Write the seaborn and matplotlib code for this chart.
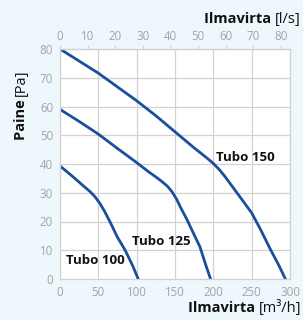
"""Pressure vs airflow curves for Tubo ducts."""

import pandas as pd
import matplotlib
matplotlib.use("Agg")
import matplotlib.pyplot as plt
import seaborn as sns

# Data (airflow m3/h, pressure Pa)
tubo100_flow = [0, 15, 30, 40, 46, 52, 58, 65, 75, 85, 95, 102]
tubo100_pa = [39.3, 36, 32.5, 30.2, 28.5, 26.3, 23.6, 20, 14.5, 10, 4.5, 0]

tubo125_flow = [0, 25, 50, 75, 100, 115, 124, 132, 140, 146, 152, 158,
                165, 173, 182.5, 190, 196.4]
tubo125_pa = [59, 54.8, 50.4, 45.4, 40.5, 37.4, 35.7, 34.1, 32.3, 30.4,
              27.8, 24.5, 21, 16.5, 11.2, 5, 0]

tubo150_flow = [0, 25, 50, 75, 100, 125, 150, 175, 185, 192, 200, 208, 215,
                228, 250, 262, 275, 285, 294]
tubo150_pa = [80, 75.8, 71.6, 66.8, 62, 56.8, 51.2, 45.6, 43.5, 42, 40.2,
              38, 35.7, 31, 23, 17, 10, 5, 0]

series_names = ["Tubo 100", "Tubo 125", "Tubo 150"]
label_pos = [(8, 6.6), (94, 13), (203, 42.4)]

x_ticks = [0, 50, 100, 150, 200, 250, 300]
y_ticks = [0, 10, 20, 30, 40, 50, 60, 70, 80]
top_ticks = [0, 10, 20, 30, 40, 50, 60, 70, 80]

BG = "#eef7fc"
LINE = "#1a4f9c"
GRID = "#d2d2d2"
TICK = "#a3a3a3"

frames = []
for name, fl, pa in zip(series_names,
                        [tubo100_flow, tubo125_flow, tubo150_flow],
                        [tubo100_pa, tubo125_pa, tubo150_pa]):
    frames.append(pd.DataFrame({"flow": fl, "pa": pa, "tubo": name}))
df = pd.concat(frames, ignore_index=True)

sns.set_style("white")
plt.rcParams["font.family"] = ["Open Sans", "DejaVu Sans"]

fig = plt.figure(figsize=(3.03, 3.20), dpi=100, facecolor=BG)
ax = fig.add_axes([60 / 303, 1 - 279 / 320, 230 / 303, 230 / 320])
ax.set_facecolor("white")

sns.lineplot(data=df, x="flow", y="pa", units="tubo", estimator=None,
             color=LINE, linewidth=2.0, sort=False, ax=ax, legend=False)

for name, (lx, ly) in zip(series_names, label_pos):
    ax.text(lx, ly, name, fontsize=9.5, fontweight="bold", color="#111111",
            ha="left", va="center")

ax.set_xlim(0, 300)
ax.set_ylim(0, 80)
ax.set_xticks(x_ticks)
ax.set_yticks(y_ticks)
ax.grid(True, color=GRID, linewidth=0.9)
ax.set_axisbelow(True)
ax.set_xlabel("")
ax.set_ylabel("")
for sp in ax.spines.values():
    sp.set_color(GRID)
    sp.set_linewidth(0.9)
ax.tick_params(axis="both", colors=GRID, labelcolor=TICK, labelsize=8.3,
               length=3, width=0.8, pad=2)

sec = ax.secondary_xaxis("top", functions=(lambda x: x / 3.6, lambda x: x * 3.6))
sec.set_xticks(top_ticks)
sec.tick_params(colors=GRID, labelcolor=TICK, labelsize=8.3, length=3,
                width=0.8, pad=1)
sec.spines["top"].set_color(GRID)

# Axis titles: bold word + regular unit
fig.canvas.draw()
r = fig.canvas.get_renderer()
FS = 10.5


def two_part_h(x, y, bold, normal):
    t = fig.text(x / 303, 1 - y / 320, normal, fontsize=FS, ha="right",
                 va="center", color="#111111")
    bb = t.get_window_extent(r)
    fig.text(bb.x0 / 303, 1 - y / 320, bold, fontsize=FS, ha="right",
             va="center", fontweight="bold", color="#111111")


def two_part_v(x, yc, bold, normal):
    tb = fig.text(x / 303, 0.5, bold, fontsize=FS, ha="center", va="bottom",
                  rotation=90, fontweight="bold", color="#111111")
    tn = fig.text(x / 303, 0.5, normal, fontsize=FS, ha="center", va="bottom",
                  rotation=90, color="#111111")
    hb = tb.get_window_extent(r).height
    hn = tn.get_window_extent(r).height
    y0 = (320 - yc) - (hb + hn) / 2
    tb.set_y(y0 / 320)
    tn.set_y((y0 + hb) / 320)


two_part_h(301, 19, "Ilmavirta ", "[l/s]")
two_part_h(301, 308, "Ilmavirta ", "[m³/h]")
two_part_v(21, 105, "Paine ", "[Pa]")

fig.savefig("out.png", dpi=100, facecolor=BG)
